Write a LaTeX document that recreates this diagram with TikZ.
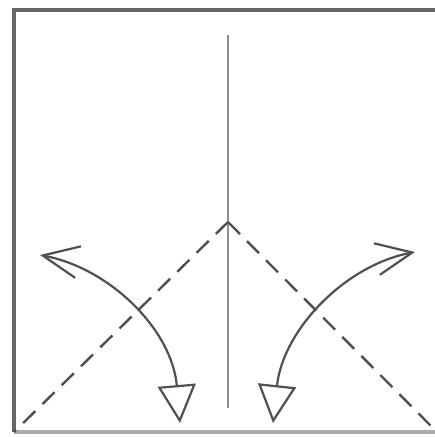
\documentclass[tikz,border=0pt]{standalone}
\usetikzlibrary{arrows.meta}
\definecolor{ink}{HTML}{505050}
\definecolor{frame}{HTML}{666666}
\definecolor{mid}{HTML}{8E8E8E}
\tikzset{
  framelinestyle/.style={draw=frame, line width=4pt},
  foldline/.style={draw=ink, line width=2.4pt, dash pattern=on 17pt off 10pt},
  creaseline/.style={draw=mid, line width=1.8pt},
  turnarrow/.style={draw=ink, line width=2.2pt,
    {Straight Barb[length=36pt,width=32pt,line width=2.2pt]}-{Triangle[open,length=38pt,width=38pt,line width=2.2pt]}}
}
\begin{document}
\begin{tikzpicture}[x=1pt,y=-1pt]
\useasboundingbox (0,0) rectangle (435,437);
% frame
\coordinate (tl) at (14,10);
\coordinate (tr) at (437,10);
\coordinate (bl) at (14,432);
\coordinate (br) at (437,432);
\draw[framelinestyle] (tr) -- (tl) -- (bl);
\draw[framelinestyle, draw=gray!65] (bl) -- (br);
% center crease
\coordinate (ctop) at (228,35);
\coordinate (cbot) at (228,408);
\draw[creaseline] (ctop) -- (cbot);
% dashed valley folds
\coordinate (apex) at (228,222);
\coordinate (lb) at (14,432);
\coordinate (rb) at (435,430);
\draw[foldline] (apex) -- (lb);
\draw[foldline] (apex) -- (rb);
% turning arrows
\coordinate (la) at (40,255);
\coordinate (lz) at (180,423);
\coordinate (ra) at (415,252);
\coordinate (rz) at (273,423);
\draw[turnarrow] (la) .. controls (110,268) and (172,330) .. (lz);
\draw[turnarrow] (ra) .. controls (345,265) and (283,330) .. (rz);
\end{tikzpicture}
\end{document}
